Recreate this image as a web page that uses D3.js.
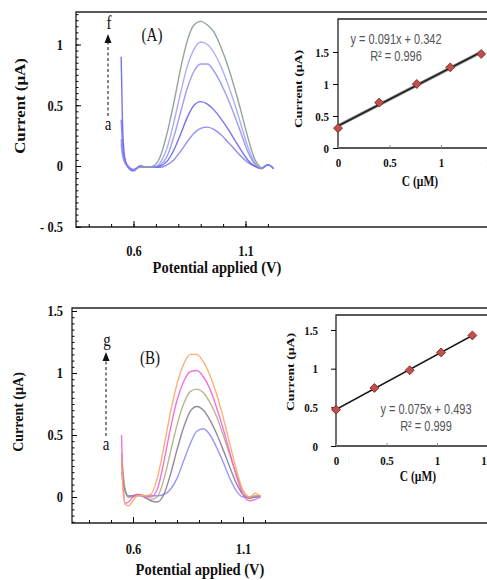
<!DOCTYPE html>
<html>
<head>
<meta charset="utf-8">
<script src="https://cdn.jsdelivr.net/npm/d3@7"></script>
<style>
  body { margin: 0; background: #fff; }
</style>
</head>
<body>
<svg id="chart" width="487" height="580"></svg>
<script>
// ---- panel A voltammograms (potential in V, current in uA) ----
const potA = [0.545, 0.55, 0.56, 0.575, 0.60, 0.63, 0.66, 0.69, 0.72, 0.75, 0.78, 0.81, 0.84,
  0.87, 0.90, 0.93, 0.96, 0.99, 1.02, 1.05, 1.08, 1.11, 1.14, 1.17, 1.20, 1.225];
const curveA_b = [0.38, 0.20, 0.06, 0.00, -0.03, 0.00, -0.01, -0.01, -0.01, 0.01, 0.05, 0.12, 0.20,
  0.27, 0.31, 0.32, 0.30, 0.26, 0.20, 0.14, 0.08, 0.03, 0.00, -0.02, 0.01, -0.02];
const curveA_c = [0.90, 0.42, 0.08, -0.01, -0.04, 0.00, -0.01, -0.01, 0.00, 0.04, 0.13, 0.26, 0.40,
  0.50, 0.53, 0.51, 0.46, 0.39, 0.31, 0.22, 0.13, 0.05, 0.00, -0.02, 0.01, -0.02];
const curveA_d = [0.22, 0.12, 0.04, 0.00, -0.03, -0.01, -0.01, -0.01, 0.01, 0.08, 0.24, 0.44, 0.64,
  0.78, 0.84, 0.84, 0.78, 0.68, 0.56, 0.42, 0.27, 0.12, 0.02, -0.02, 0.01, -0.02];
const curveA_e = [0.18, 0.10, 0.03, -0.01, -0.03, 0.00, -0.01, -0.01, 0.03, 0.15, 0.36, 0.60, 0.82,
  0.96, 1.02, 1.00, 0.93, 0.82, 0.68, 0.52, 0.34, 0.16, 0.03, -0.02, 0.01, -0.02];
const curveA_f = [null, null, null, null, null, -0.01, -0.01, 0.00, 0.08, 0.27, 0.52, 0.80, 1.03,
  1.16, 1.19, 1.16, 1.10, 0.98, 0.83, 0.65, 0.45, 0.24, 0.06, -0.02, null, null];
const colorsA = ["#7272f2", "#5d5df0", "#7c7cf2", "#8a8af4", "#8d9f97"];

// ---- panel B voltammograms ----
const potB = [0.548, 0.555, 0.565, 0.58, 0.60, 0.62, 0.65, 0.68, 0.71, 0.74, 0.77, 0.80, 0.83,
  0.86, 0.89, 0.92, 0.95, 0.98, 1.01, 1.04, 1.07, 1.10, 1.13, 1.155, 1.18];
const curveB_blue = [0.20, 0.12, 0.05, 0.01, 0.01, 0.01, 0.01, 0.01, 0.01, 0.02, 0.06, 0.15, 0.29,
  0.43, 0.53, 0.55, 0.50, 0.40, 0.28, 0.15, 0.05, 0.00, 0.00, 0.00, 0.00];
const curveB_gray = [0.30, 0.15, 0.04, 0.00, 0.01, 0.02, 0.00, -0.03, -0.04, 0.02, 0.18, 0.38, 0.56,
  0.69, 0.73, 0.70, 0.62, 0.51, 0.38, 0.24, 0.11, 0.02, -0.01, 0.00, 0.01];
const curveB_olive = [0.35, 0.20, 0.06, 0.00, 0.00, 0.02, 0.01, -0.02, 0.00, 0.14, 0.36, 0.58, 0.75,
  0.85, 0.87, 0.84, 0.76, 0.65, 0.50, 0.34, 0.18, 0.05, 0.00, 0.01, 0.01];
const curveB_magenta = [0.50, 0.10, -0.05, -0.04, 0.00, 0.02, 0.01, 0.00, 0.06, 0.28, 0.55, 0.78, 0.93,
  1.01, 1.02, 0.97, 0.87, 0.72, 0.55, 0.36, 0.17, 0.02, -0.03, -0.02, 0.00];
const curveB_orange = [0.30, 0.05, -0.06, -0.07, -0.03, 0.01, 0.01, 0.02, 0.15, 0.40, 0.68, 0.91, 1.07,
  1.15, 1.15, 1.09, 0.98, 0.83, 0.64, 0.43, 0.22, 0.05, 0.00, 0.03, 0.01];
const colorsB = ["#8686fb", "#8c7b95", "#a9a97c", "#f25ad8", "#f7a868"];

// ---- calibration insets ----
const concA = [0, 0.40, 0.765, 1.09, 1.39];
const peakA = [0.31, 0.71, 1.00, 1.26, 1.47];
const concB = [0, 0.38, 0.73, 1.04, 1.35];
const peakB = [0.47, 0.75, 0.98, 1.21, 1.43];

const svg = d3.select("#chart");
svg.append("rect").attr("width", 487).attr("height", 580).attr("fill", "white");

const SERIF = "'Liberation Serif', 'Times New Roman', serif";
const SANS = "'Liberation Sans', Arial, sans-serif";

// text with the vertical stretch of the original figure
function label(x, y, s, o) {
  o = o || {};
  const t = svg.append("text")
    .attr("transform", `translate(${x},${y}) scale(1,${o.sy || 1})${o.rot ? " rotate(-90)" : ""}`)
    .attr("text-anchor", o.anchor || "middle")
    .attr("font-family", o.family || SERIF)
    .attr("font-size", o.size || 14)
    .attr("font-weight", o.bold ? "bold" : "normal")
    .attr("fill", o.fill || "#111")
    .text(s);
  return t;
}

function frameLines(g, left, top, bottom, right) {
  g.append("path")
    .attr("d", `M${right},${top}H${left}V${bottom}H${right}`)
    .attr("fill", "none").attr("stroke", "#222").attr("stroke-width", 1.3);
}

// ================= main panel =================
function mainPanel(p) {
  const g = svg.append("g");
  const x = d3.scaleLinear().domain([0.6, 1.1]).range(p.xr);
  const y = d3.scaleLinear().domain([0, 1]).range(p.yr);

  frameLines(g, p.left, p.top, p.bottom, 500);

  // y ticks: minor every 0.05, major every 0.5, pointing inward
  const minorY = d3.range(Math.round(p.ymin * 20), Math.round(p.ymax * 20) + 1).map(d => d / 20);
  g.append("g").attr("transform", `translate(${p.left},0)`)
    .call(d3.axisLeft(y).tickValues(minorY).tickSize(-2.5).tickFormat(""))
    .call(a => a.select(".domain").remove());
  g.append("g").attr("transform", `translate(${p.left},0)`)
    .call(d3.axisLeft(y).tickValues(p.majorY).tickSize(-5).tickPadding(p.ypad)
      .tickFormat(d => d < 0 ? "- " + Math.abs(d) : d))
    .call(a => a.select(".domain").remove())
    .call(a => a.selectAll("text").attr("font-family", SERIF).attr("font-weight", "bold")
      .attr("font-size", 12.5).attr("fill", "#111")
      .attr("transform", `scale(1,${p.sy})`));

  // x ticks
  const minorX = d3.range(4, 13).map(d => d / 10);
  g.append("g").attr("transform", `translate(0,${p.bottom})`)
    .call(d3.axisBottom(x).tickValues(minorX).tickSize(-3).tickFormat(""))
    .call(a => a.select(".domain").remove());
  g.append("g").attr("transform", `translate(0,${p.bottom})`)
    .call(d3.axisBottom(x).tickValues([0.6, 1.1]).tickSize(-6).tickPadding(p.xpad)
      .tickFormat(d3.format("")))
    .call(a => a.select(".domain").remove())
    .call(a => a.selectAll("text").attr("font-family", SERIF).attr("font-weight", "bold")
      .attr("font-size", 12.5).attr("fill", "#111")
      .attr("transform", `scale(1,${p.sy})`));

  // curves
  const line = d3.line()
    .defined(d => d[1] !== null)
    .x(d => x(d[0])).y(d => y(d[1]))
    .curve(d3.curveMonotoneX);
  p.curves.forEach((c, i) => {
    g.append("path")
      .datum(p.pot.map((v, j) => [v, c[j]]))
      .attr("d", line)
      .attr("fill", "none")
      .attr("stroke", p.colors[i])
      .attr("stroke-width", 1.4)
      .attr("stroke-opacity", p.opacity[i]);
  });

  // dashed arrow a -> f/g
  g.append("line")
    .attr("x1", p.arrowX).attr("x2", p.arrowX)
    .attr("y1", p.arrowY[0]).attr("y2", p.arrowY[1])
    .attr("stroke", "#444").attr("stroke-width", 1.3).attr("stroke-dasharray", "3,2.5");
  g.append("path")
    .attr("d", `M${p.arrowX},${p.arrowY[1] - 9}l-3.5,9h7z`)
    .attr("fill", "#111");

  label(p.arrowX + 1, p.topLetterY, p.topLetter, { size: 15, sy: 1.2 });
  label(p.arrowX, p.aY, "a", { size: 15, sy: 1.2 });
  label(p.tagX, p.tagY, p.tag, { size: 15, sy: 1.2 });

  label(p.xtitle[0], p.xtitle[1], "Potential applied (V)", { size: 14.5, bold: true, sy: 1.2 });
  label(p.ytitle[0], p.ytitle[1], "Current (\u00b5A)", { size: 14, bold: true, rot: true, sy: p.ytitleSy });
}

mainPanel({
  left: 76, top: 12, bottom: 227,
  xr: [133.5, 245.5], yr: [166, 44.5],
  ymin: -0.5, ymax: 1.25, majorY: [-0.5, 0, 0.5, 1],
  ypad: 13, xpad: 15, sy: 1.2,
  pot: potA, curves: [curveA_b, curveA_c, curveA_d, curveA_e, curveA_f],
  colors: colorsA, opacity: [0.8, 0.85, 0.75, 0.7, 0.95],
  arrowX: 108, arrowY: [116, 43], topLetter: "f", topLetterY: 29, aY: 130,
  tag: "(A)", tagX: 152, tagY: 41,
  xtitle: [217, 273], ytitle: [25, 106], ytitleSy: 1.2
});

mainPanel({
  left: 72, top: 308, bottom: 523,
  xr: [133, 243], yr: [497, 373],
  ymin: -0.2, ymax: 1.5, majorY: [0, 0.5, 1, 1.5],
  ypad: 9, xpad: 17, sy: 1.2,
  pot: potB, curves: [curveB_blue, curveB_gray, curveB_olive, curveB_magenta, curveB_orange],
  colors: colorsB, opacity: [0.85, 0.9, 0.85, 0.85, 0.9],
  arrowX: 106, arrowY: [436, 361], topLetter: "g", topLetterY: 346, aY: 450,
  tag: "(B)", tagX: 150, tagY: 364,
  xtitle: [200, 575], ytitle: [23, 412], ytitleSy: 1
});

// ================= calibration insets =================
function inset(p) {
  const g = svg.append("g");
  const x = d3.scaleLinear().domain([0, 1]).range(p.xr);
  const y = d3.scaleLinear().domain([0, 1.5]).range(p.yr);

  g.append("rect").attr("x", p.left).attr("y", p.top)
    .attr("width", 500 - p.left).attr("height", p.bottom - p.top).attr("fill", "white");
  frameLines(g, p.left, p.top, p.bottom, 500);

  g.append("g").attr("transform", `translate(${p.left},0)`)
    .call(d3.axisLeft(y).tickValues([0, 0.5, 1, 1.5]).tickSize(5).tickPadding(p.ypad)
      .tickFormat(d3.format("")))
    .call(a => a.select(".domain").remove())
    .call(a => a.selectAll("text").attr("font-family", SERIF).attr("font-weight", "bold")
      .attr("font-size", 11).attr("fill", "#111").attr("transform", "scale(1,1.2)"));
  g.append("g").attr("transform", `translate(0,${p.bottom})`)
    .call(d3.axisBottom(x).tickValues([0, 0.5, 1, 1.5]).tickSize(-3).tickPadding(8)
      .tickFormat(d3.format("")))
    .call(a => a.select(".domain").remove())
    .call(a => a.selectAll("line").attr("stroke", "#888"))
    .call(a => a.selectAll("text").attr("font-family", SERIF).attr("font-weight", "bold")
      .attr("font-size", 11).attr("fill", "#111").attr("transform", "scale(1,1.2)"));

  // least-squares trend line over the measured points
  const mx = d3.mean(p.conc), my = d3.mean(p.peak);
  const slope = d3.sum(p.conc, (c, i) => (c - mx) * (p.peak[i] - my)) /
    d3.sum(p.conc, c => (c - mx) * (c - mx));
  const ends = d3.extent(p.conc).map(c => [c, my + slope * (c - mx)]);
  const trend = d3.line().x(d => x(d[0])).y(d => y(d[1]));
  g.append("path").datum(ends).attr("d", trend)
    .attr("stroke", "#777").attr("stroke-width", p.halo).attr("fill", "none");
  g.append("path").datum(ends).attr("d", trend)
    .attr("stroke", "#111").attr("stroke-width", 1.2).attr("fill", "none");

  g.selectAll(".pt").data(p.conc).join("path")
    .attr("class", "pt")
    .attr("transform", (c, i) => `translate(${x(c)},${y(p.peak[i])}) rotate(45)`)
    .attr("d", d3.symbol(d3.symbolSquare, 40))
    .attr("fill", "#c0504d").attr("stroke", "#7a2524").attr("stroke-width", 0.8);

  label(p.eq[0], p.eq[1], p.eqText, { family: SANS, size: 11, sy: 1.25, fill: "#555" });
  label(p.r2[0], p.r2[1], p.r2Text, { family: SANS, size: 11, sy: 1.25, fill: "#555" });
  label(p.xtitle[0], p.xtitle[1], "C (\u00b5M)", { size: 11.5, bold: true, sy: 1.25 });
  label(p.ytitle[0], p.ytitle[1], "Current (\u00b5A)", { size: 11, bold: true, rot: true, sy: 1.25 });
}

inset({
  left: 338, top: 19, bottom: 148,
  xr: [338, 441], yr: [148, 52], ypad: 4, halo: 3,
  conc: concA, peak: peakA,
  eq: [396, 44], eqText: "y = 0.091x + 0.342",
  r2: [396, 61], r2Text: "R\u00b2 = 0.996",
  xtitle: [420, 186], ytitle: [302, 89]
});

inset({
  left: 336, top: 315, bottom: 446,
  xr: [336, 437], yr: [446, 330], ypad: 13, halo: 1.8,
  conc: concB, peak: peakB,
  eq: [426, 414], eqText: "y = 0.075x + 0.493",
  r2: [426, 431], r2Text: "R\u00b2 = 0.999",
  xtitle: [418, 481], ytitle: [294, 372]
});
</script>
</body>
</html>
